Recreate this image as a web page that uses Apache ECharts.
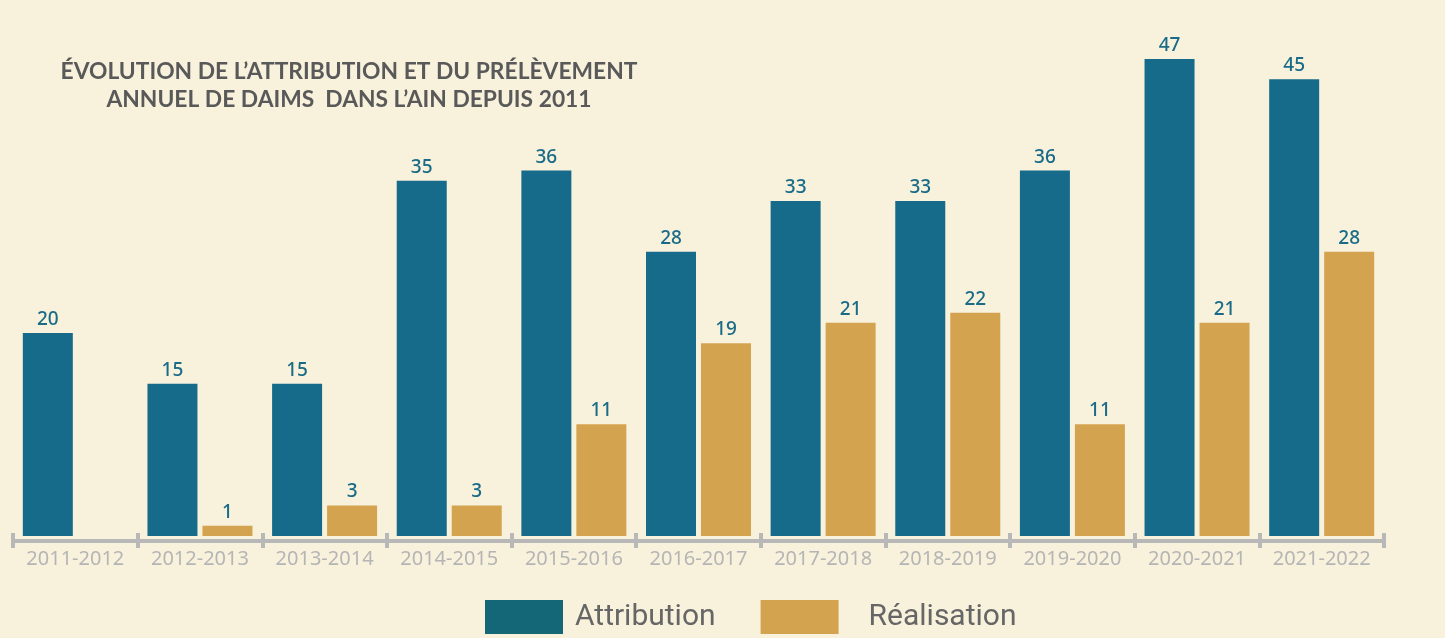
<!DOCTYPE html>
<html>
<head>
<meta charset="utf-8">
<script src="https://cdn.jsdelivr.net/npm/echarts@6/dist/echarts.min.js"></script>
<style>
  html, body { margin: 0; padding: 0; background: #f8f1dc; }
  #chart { width: 1445px; height: 638px; }
</style>
</head>
<body>
<div id="chart"></div>
<script>
// saisons
const seasons = ['2011-2012', '2012-2013', '2013-2014', '2014-2015', '2015-2016', '2016-2017',
  '2017-2018', '2018-2019', '2019-2020', '2020-2021', '2021-2022'];
// plan de chasse attribué
const attribution = [20, 15, 15, 35, 36, 28, 33, 33, 36, 47, 45];
// animaux réellement prélevés (pas de donnée en 2011-2012)
const realisation = [null, 1, 3, 3, 11, 19, 21, 22, 11, 21, 28];

const titleText = 'ÉVOLUTION DE L\u2019ATTRIBUTION ET DU PRÉLÈVEMENT\nANNUEL DE DAIMS  DANS L\u2019AIN DEPUIS 2011';

const chart = echarts.init(document.getElementById('chart'));

const labelStyle = {
  show: true,
  position: 'top',
  distance: 4,
  color: '#1a6b87',
  fontSize: 19,
  fontWeight: 500,
  fontFamily: 'Noto Sans'
};

const tickColor = '#b8b8b8';

chart.setOption({
  backgroundColor: '#f8f1dc',
  animation: false,
  graphic: [{
    type: 'text',
    style: {
      text: titleText,
      x: 349,
      y: 58,
      align: 'center',
      verticalAlign: 'top',
      fontFamily: 'Lato',
      fontWeight: 'bold',
      fontSize: 22.8,
      lineHeight: 28,
      fill: '#595959'
    }
  }],
  legend: {
    left: 485,
    top: 600,
    padding: 0,
    itemWidth: 78,
    itemHeight: 34,
    itemGap: 45,
    icon: 'rect',
    textStyle: { fontFamily: 'Roboto', fontSize: 30, color: '#666666' },
    data: [
      { name: 'Attribution', itemStyle: { color: '#136776' }, textStyle: { padding: [0, 0, 0, 7] } },
      { name: 'Réalisation', textStyle: { padding: [0, 0, 0, 25] } }
    ]
  },
  grid: { left: 13, right: 61, top: 28.5, bottom: 102 },
  xAxis: [{
    type: 'category',
    data: seasons,
    position: 'bottom',
    offset: 5,
    axisLine: { onZero: false, lineStyle: { color: tickColor, width: 4 } },
    axisTick: { show: true, interval: 0, length: 7, lineStyle: { color: tickColor, width: 4 } },
    axisLabel: { interval: 0, margin: 8, color: '#b5b5b5', fontSize: 20, fontFamily: 'Noto Sans' }
  }, {
    type: 'category',
    data: seasons,
    position: 'bottom',
    offset: 5,
    axisLine: { show: false, onZero: false },
    axisTick: { show: true, interval: 0, inside: true, length: 8, lineStyle: { color: tickColor, width: 4 } },
    axisLabel: { show: false }
  }],
  yAxis: { type: 'value', min: 0, max: 50, show: false, splitLine: { show: false } },
  series: [{
    name: 'Attribution',
    type: 'bar',
    data: attribution,
    barWidth: 50,
    barGap: '10%',
    itemStyle: { color: '#156b89' },
    label: labelStyle
  }, {
    name: 'Réalisation',
    type: 'bar',
    data: realisation,
    barWidth: 50,
    itemStyle: { color: '#d4a350' },
    label: labelStyle
  }]
});
</script>
</body>
</html>
